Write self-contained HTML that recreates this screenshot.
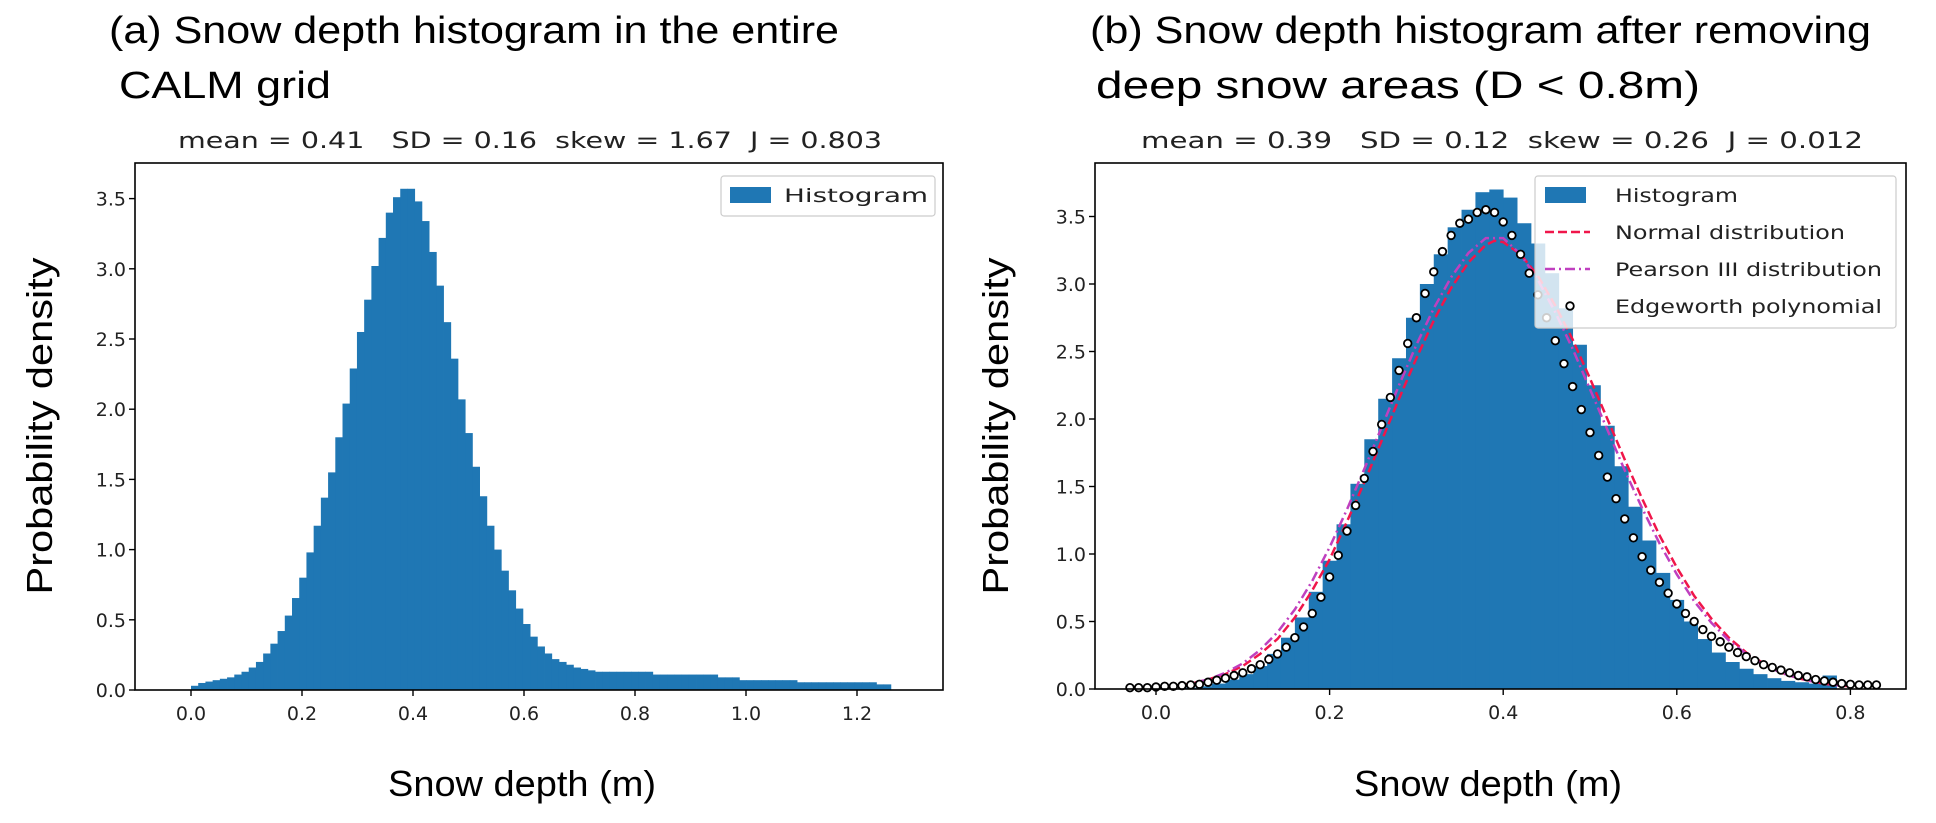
<!DOCTYPE html>
<html><head><meta charset="utf-8"><style>
html,body{margin:0;padding:0;background:#fff;}
svg{display:block;}
text{font-family:"DejaVu Sans","Liberation Sans",sans-serif;fill:#222;}
.big{font-family:"Liberation Sans",sans-serif;fill:#000;}
.pre{white-space:pre;}
</style></head><body>
<svg id="fig" width="1936" height="823" viewBox="0 0 1936 823">
<g id="panelA"></g>
<g id="panelB"></g>
</svg>
<script>
// ---- Panel (a) data ----
const aBinStart = 0.0;
const aBinWidth = 0.013;
const aHist = [0.03,0.05,0.06,0.07,0.08,0.09,0.11,0.13,0.16,0.20,0.26,0.33,0.42,0.53,
0.655,0.80,0.98,1.17,1.37,1.55,1.80,2.04,2.29,2.55,2.78,3.02,3.22,3.40,3.51,
3.57,3.57,
3.48,3.34,3.12,2.88,2.62,2.36,2.07,1.83,1.59,1.38,1.17,1.00,0.85,0.71,
0.58,0.47,0.38,0.31,0.26,0.22,0.20,0.18,0.16,0.15,0.14,
0.13,0.13,0.13,0.13,0.13,0.13,0.13,0.13,
0.11,0.11,0.11,0.11,0.11,0.11,0.11,0.11,0.11,
0.09,0.09,0.09,
0.07,0.07,0.07,0.07,0.07,0.07,0.07,0.07,
0.055,0.055,0.055,0.055,0.055,0.055,0.055,0.055,0.055,0.055,0.055,
0.04,0.04];
const aXTicks = [0.0,0.2,0.4,0.6,0.8,1.0,1.2];
const aXTickLabels = ["0.0","0.2","0.4","0.6","0.8","1.0","1.2"];
const aYTicks = [0,0.5,1,1.5,2,2.5,3,3.5];
const aYTickLabels = ["0.0","0.5","1.0","1.5","2.0","2.5","3.0","3.5"];

// ---- Panel (b) data ----
const bBinStart = 0.0;
const bBinWidth = 0.016;
const bHist = [0.0,0.0,0.01,0.02,0.04,0.07,0.11,0.17,0.26,0.38,0.53,0.72,0.95,1.22,1.52,1.85,2.15,2.45,2.75,3.0,3.22,3.42,3.55,3.68,3.70,3.64,3.45,3.3,3.08,2.82,2.55,2.25,1.95,1.65,1.35,1.1,0.86,0.66,0.5,0.37,0.27,0.2,0.15,0.11,0.08,0.06,0.05,0.04,0.1,0.0];
const normX = [0.0,0.02,0.04,0.06,0.08,0.10,0.12,0.14,0.16,0.18,0.20,0.22,0.24,0.26,0.28,0.30,0.32,0.34,0.36,0.38,0.39,0.40,0.42,0.44,0.46,0.48,0.50,0.52,0.54,0.56,0.58,0.60,0.62,0.64,0.66,0.68,0.70,0.72,0.74,0.76,0.78,0.80];
const normY = [0.01,0.02,0.04,0.07,0.11,0.17,0.26,0.37,0.53,0.73,0.96,1.24,1.53,1.84,2.15,2.45,2.73,2.97,3.16,3.29,3.32,3.31,3.22,3.06,2.84,2.59,2.30,2.00,1.70,1.41,1.14,0.90,0.69,0.52,0.38,0.27,0.19,0.12,0.08,0.05,0.03,0.02];
const pearX = [0.0,0.02,0.04,0.06,0.08,0.10,0.12,0.14,0.16,0.18,0.20,0.22,0.24,0.26,0.28,0.30,0.32,0.34,0.36,0.38,0.40,0.42,0.44,0.46,0.48,0.50,0.52,0.54,0.56,0.58,0.60,0.62,0.64,0.66,0.68,0.70,0.72,0.74,0.76,0.78,0.80];
const pearY = [0.01,0.02,0.04,0.07,0.12,0.19,0.29,0.42,0.59,0.80,1.05,1.33,1.63,1.94,2.25,2.55,2.82,3.05,3.23,3.34,3.34,3.22,3.03,2.79,2.52,2.22,1.92,1.62,1.34,1.08,0.85,0.65,0.49,0.36,0.26,0.18,0.12,0.08,0.05,0.03,0.02];
const edgeX0 = -0.03;
const edgeStep = 0.01;
const edgeY = [0.01,0.01,0.01,0.015,0.02,0.02,0.025,0.03,0.035,0.05,0.065,0.08,0.10,0.12,0.15,0.18,0.22,0.26,0.31,0.38,0.46,0.56,0.68,0.83,0.99,1.17,1.36,1.56,1.76,
1.96,2.16,2.36,2.56,2.75,2.93,3.09,3.24,3.36,3.45,
3.48,3.53,3.55,3.53,3.46,3.36,3.22,3.08,2.92,2.75,
2.58,2.41,2.24,2.07,1.90,1.73,1.57,1.41,1.26,1.12,
0.98,0.88,0.79,0.71,0.63,0.56,0.50,0.44,0.39,0.35,
0.31,0.27,0.24,0.21,0.18,0.16,0.14,0.12,0.10,0.09,
0.07,0.06,0.05,0.04,0.035,0.03,0.03,0.03];
const bXTicks = [0.0,0.2,0.4,0.6,0.8];
const bXTickLabels = ["0.0","0.2","0.4","0.6","0.8"];
const bYTicks = [0,0.5,1,1.5,2,2.5,3,3.5];
const bYTickLabels = ["0.0","0.5","1.0","1.5","2.0","2.5","3.0","3.5"];

const NS = "http://www.w3.org/2000/svg";
function mk(parent, tag, attrs, txt){
  const e = document.createElementNS(NS, tag);
  for (const k in attrs) e.setAttribute(k, attrs[k]);
  if (txt !== undefined) e.textContent = txt;
  parent.appendChild(e);
  return e;
}

// ===== Panel A =====
const A = document.getElementById('panelA');
const axA = {l:135, r:943, t:163, b:690};
const xA = v => 191 + v*555;
const yA = v => 690 - v*140.4;
for (let i=0;i<aHist.length;i++){
  const x0 = xA(aBinStart + i*aBinWidth), x1 = xA(aBinStart + (i+1)*aBinWidth);
  const r = mk(A,'rect',{x:x0,y:yA(aHist[i]),width:x1-x0+0.4,height:yA(0)-yA(aHist[i]),fill:'#1f77b4'});
  
  
}
const fA = mk(A,'rect',{x:axA.l,y:axA.t,width:axA.r-axA.l,height:axA.b-axA.t,fill:'none',stroke:'#000','stroke-width':1.6});


for (let i=0;i<aXTicks.length;i++){
  const x = xA(aXTicks[i]);
  mk(A,'line',{x1:x,y1:axA.b,x2:x,y2:axA.b+6,stroke:'#000','stroke-width':1.4});
  const t = mk(A,'text',{x:x,y:axA.b+30,'font-size':19,'text-anchor':'middle'},aXTickLabels[i]);
  
  
}
for (let i=0;i<aYTicks.length;i++){
  const y = yA(aYTicks[i]);
  mk(A,'line',{x1:axA.l-6,y1:y,x2:axA.l,y2:y,stroke:'#000','stroke-width':1.4});
  const t = mk(A,'text',{x:axA.l-9,y:y+7,'font-size':19,'text-anchor':'end'},aYTickLabels[i]);
  
  
}

// ===== Panel B =====
const B = document.getElementById('panelB');
const axB = {l:1095, r:1906, t:163, b:689};
const xB = v => 1156 + v*868;
const yB = v => 689 - v*135;
for (let i=0;i<bHist.length;i++){
  if (bHist[i] <= 0) continue;
  const x0 = xB(bBinStart + i*bBinWidth), x1 = xB(bBinStart + (i+1)*bBinWidth);
  const r = mk(B,'rect',{x:x0,y:yB(bHist[i]),width:x1-x0+0.4,height:yB(0)-yB(bHist[i]),fill:'#1f77b4'});
  
  
}
let pn = normX.map((x,i)=>xB(x).toFixed(1)+','+yB(normY[i]).toFixed(1)).join(' ');
const ln = mk(B,'polyline',{points:pn,fill:'none',stroke:'#f0164a','stroke-width':2.5,'stroke-dasharray':'9,4'});


let pp = pearX.map((x,i)=>xB(x).toFixed(1)+','+yB(pearY[i]).toFixed(1)).join(' ');
const lp = mk(B,'polyline',{points:pp,fill:'none',stroke:'#bf40bf','stroke-width':2.5,'stroke-dasharray':'10,4,2,4'});


for (let i=0;i<edgeY.length;i++){
  const c = mk(B,'circle',{cx:xB(edgeX0+i*edgeStep),cy:yB(edgeY[i]),r:3.8,fill:'#fff',stroke:'#000','stroke-width':1.8});
  
  
}
const fB = mk(B,'rect',{x:axB.l,y:axB.t,width:axB.r-axB.l,height:axB.b-axB.t,fill:'none',stroke:'#000','stroke-width':1.6});


for (let i=0;i<bXTicks.length;i++){
  const x = xB(bXTicks[i]);
  mk(B,'line',{x1:x,y1:axB.b,x2:x,y2:axB.b+6,stroke:'#000','stroke-width':1.4});
  const t = mk(B,'text',{x:x,y:axB.b+30,'font-size':19,'text-anchor':'middle'},bXTickLabels[i]);
  
  
}
for (let i=0;i<bYTicks.length;i++){
  const y = yB(bYTicks[i]);
  mk(B,'line',{x1:axB.l-6,y1:y,x2:axB.l,y2:y,stroke:'#000','stroke-width':1.4});
  const t = mk(B,'text',{x:axB.l-9,y:y+7,'font-size':19,'text-anchor':'end'},bYTickLabels[i]);
  
  
}
</script>
<svg width="1936" height="823" viewBox="0 0 1936 823" style="position:absolute;left:0;top:0">
  <text class="big" x="109" y="43" font-size="38" textLength="730" lengthAdjust="spacingAndGlyphs">(a) Snow depth histogram in the entire</text>
  <text class="big" x="119" y="98" font-size="38" textLength="212" lengthAdjust="spacingAndGlyphs">CALM grid</text>
  <text class="pre" x="178" y="148" font-size="22" textLength="704" lengthAdjust="spacingAndGlyphs">mean = 0.41   SD = 0.16  skew = 1.67  J = 0.803</text>
  <text class="big" x="522" y="796" font-size="36" text-anchor="middle" textLength="268" lengthAdjust="spacingAndGlyphs">Snow depth (m)</text>
  <text class="big" transform="translate(52,426) rotate(-90)" font-size="36" text-anchor="middle" textLength="337" lengthAdjust="spacingAndGlyphs">Probability density</text>
  <g>
    <rect x="721" y="176" width="214" height="40" rx="3" fill="#fff" fill-opacity="0.8" stroke="#ccc" stroke-width="1.2"/>
    <rect x="730" y="187" width="41" height="16" fill="#1f77b4"/>
    <text x="784" y="202" font-size="19" textLength="144" lengthAdjust="spacingAndGlyphs">Histogram</text>
  </g>
  <text class="big" x="1090" y="43" font-size="38" textLength="781" lengthAdjust="spacingAndGlyphs">(b) Snow depth histogram after removing</text>
  <text class="big" x="1096" y="98" font-size="38" textLength="604" lengthAdjust="spacingAndGlyphs">deep snow areas (D &lt; 0.8m)</text>
  <text class="pre" x="1141" y="148" font-size="22" textLength="722" lengthAdjust="spacingAndGlyphs">mean = 0.39   SD = 0.12  skew = 0.26  J = 0.012</text>
  <text class="big" x="1488" y="796" font-size="36" text-anchor="middle" textLength="268" lengthAdjust="spacingAndGlyphs">Snow depth (m)</text>
  <text class="big" transform="translate(1008,426) rotate(-90)" font-size="36" text-anchor="middle" textLength="337" lengthAdjust="spacingAndGlyphs">Probability density</text>
  <g>
    <rect x="1535" y="176" width="361" height="152" rx="3" fill="#fff" fill-opacity="0.8" stroke="#ccc" stroke-width="1.2"/>
    <rect x="1545" y="187" width="41" height="16" fill="#1f77b4"/>
    <text x="1615" y="202" font-size="19" textLength="123" lengthAdjust="spacingAndGlyphs">Histogram</text>
    <line x1="1545" y1="232" x2="1590" y2="232" stroke="#f0164a" stroke-width="2.5" stroke-dasharray="9,4"/>
    <text x="1615" y="239" font-size="19" textLength="230" lengthAdjust="spacingAndGlyphs">Normal distribution</text>
    <line x1="1545" y1="269" x2="1590" y2="269" stroke="#bf40bf" stroke-width="2.5" stroke-dasharray="10,4,2,4"/>
    <text x="1615" y="276" font-size="19" textLength="267" lengthAdjust="spacingAndGlyphs">Pearson III distribution</text>
    <circle cx="1570" cy="306" r="3.8" fill="#fff" stroke="#000" stroke-width="1.8"/>
    <text x="1615" y="313" font-size="19" textLength="267" lengthAdjust="spacingAndGlyphs">Edgeworth polynomial</text>
  </g>
</svg>
</body></html>
